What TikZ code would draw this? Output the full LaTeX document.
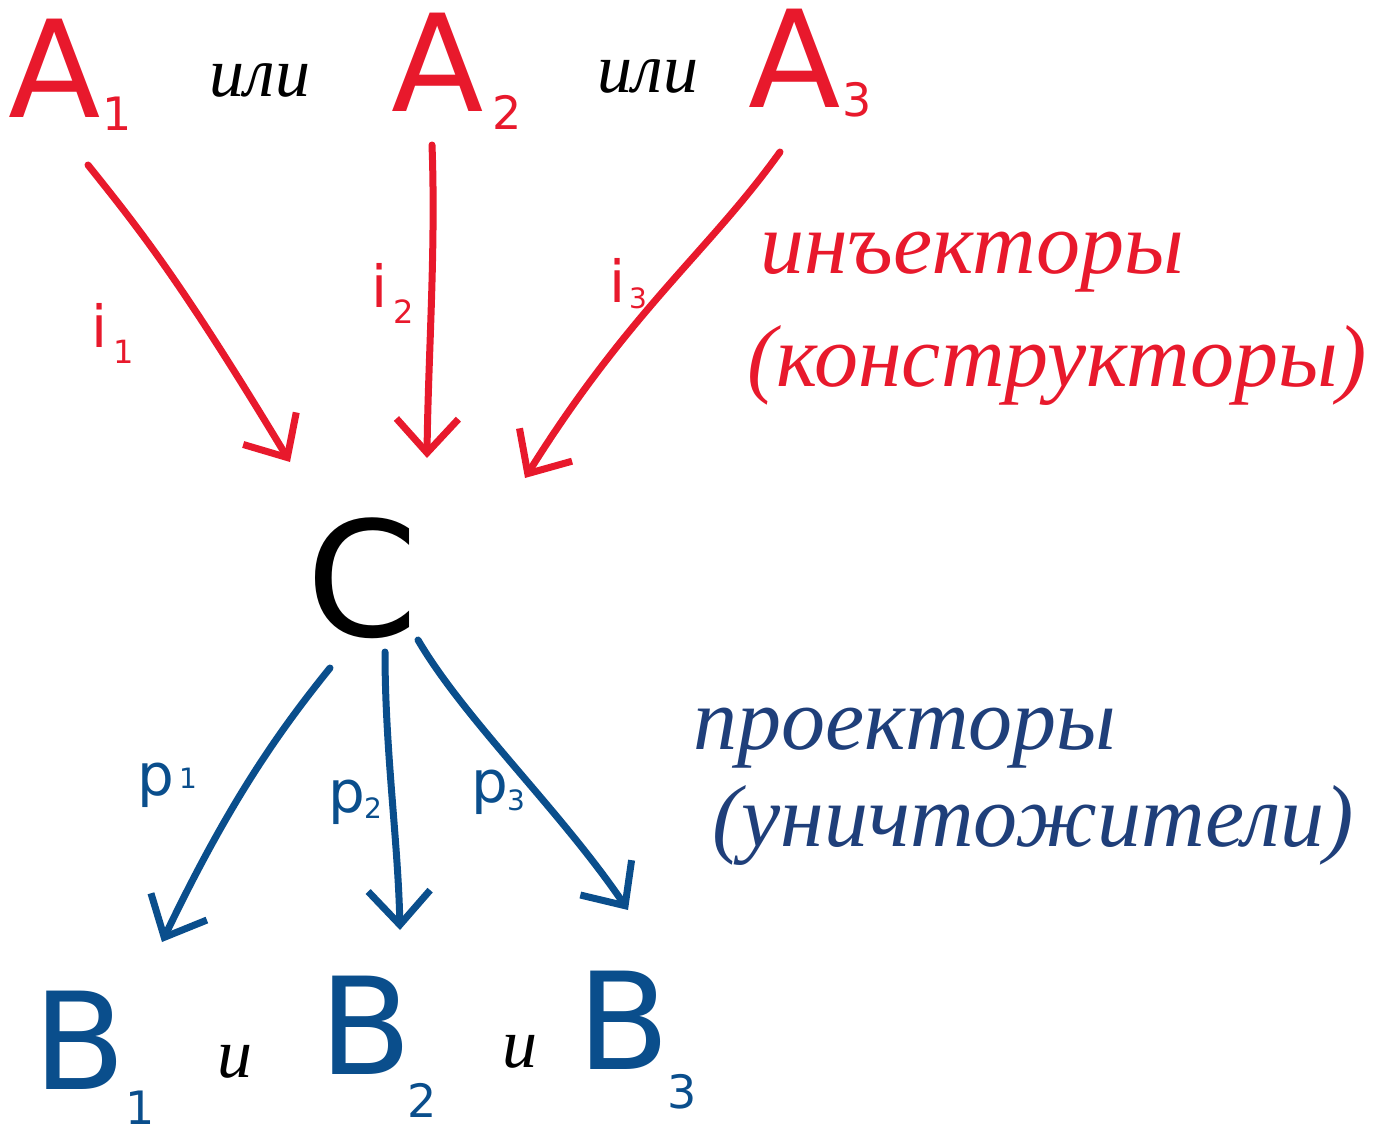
\documentclass[tikz,border=0pt]{standalone}
\usepackage{fontspec}
\setmainfont{DejaVu Sans}
\newfontfamily\handfont{Liberation Serif}
\usetikzlibrary{arrows.meta}
\definecolor{redc}{HTML}{E8192C}
\definecolor{bluea}{HTML}{0A4E8C}
\definecolor{bluet}{HTML}{1F3F7A}
\begin{document}
\begin{tikzpicture}[x=1pt,y=-1pt,
  big/.style={inner sep=0pt,font=\fontsize{135}{135}\selectfont},
  sub/.style={inner sep=0pt,font=\fontsize{46}{46}\selectfont},
  tiny/.style={inner sep=0pt,font=\fontsize{28}{28}\selectfont},
  ili/.style={inner sep=0pt,font=\handfont\itshape\fontsize{70}{70}\selectfont},
  lbl/.style={inner sep=0pt,font=\fontsize{58}{58}\selectfont},
  note/.style={inner sep=0pt,font=\handfont\itshape\fontsize{88}{88}\selectfont},
  arr/.style={line width=7pt,line cap=round,-{Straight Barb[length=34pt,width=62pt,line width=7pt]}}]
\useasboundingbox (0,0) rectangle (1377,1135);
% top row
\node[big,text=redc] (A1) at (55,68) {A};
\node[sub,text=redc] (s1) at (117,114) {1};
\node[ili] (or1) at (260,80) {или};
\node[big,text=redc] (A2) at (438,62) {A};
\node[sub,text=redc] (s2) at (507,112) {2};
\node[ili] (or2) at (648,76) {или};
\node[big,text=redc] (A3) at (795,58) {A};
\node[sub,text=redc] (s3) at (857,100) {3};
% C
\node[big,font=\fontsize{160}{160}\selectfont] (C) at (362,578) {C};
% bottom row
\node[big,text=bluea] (B1) at (80,1040) {B};
\node[sub,text=bluea] (t1) at (140,1108) {1};
\node[ili] (and1) at (235,1062) {и};
\node[big,text=bluea] (B2) at (366,1025) {B};
\node[sub,text=bluea] (t2) at (422,1100) {2};
\node[ili] (and2) at (520,1052) {и};
\node[big,text=bluea] (B3) at (624,1020) {B};
\node[sub,text=bluea] (t3) at (682,1092) {3};
% connector endpoints
\coordinate (a1s) at (88,165); \coordinate (a1e) at (290,462);
\coordinate (a2s) at (432,145); \coordinate (a2e) at (427,458);
\coordinate (a3s) at (780,152); \coordinate (a3e) at (525,478);
\coordinate (b1s) at (330,668); \coordinate (b1e) at (162,942);
\coordinate (b2s) at (385,652); \coordinate (b2e) at (400,930);
\coordinate (b3s) at (418,640); \coordinate (b3e) at (628,910);
\draw[arr,redc] (a1s) .. controls (140,230) and (180,280) .. (a1e);
\draw[arr,redc] (a2s) .. controls (436,250) and (428,360) .. (a2e);
\draw[arr,redc] (a3s) .. controls (710,250) and (630,310) .. (a3e);
\draw[arr,bluea] (b1s) .. controls (280,730) and (230,800) .. (b1e);
\draw[arr,bluea] (b2s) .. controls (385,750) and (398,840) .. (b2e);
\draw[arr,bluea] (b3s) .. controls (465,720) and (560,810) .. (b3e);
% labels
\node[lbl,text=redc] (i1) at (100,325) {i};
\node[tiny,text=redc,font=\fontsize{32}{32}\selectfont] (i1s) at (124,352) {1};
\node[lbl,text=redc] (i2) at (380,285) {i};
\node[tiny,text=redc,font=\fontsize{32}{32}\selectfont] (i2s) at (404,312) {2};
\node[lbl,text=redc] (i3) at (618,280) {i};
\node[tiny,text=redc] (i3s) at (638,298) {3};
\node[lbl,text=bluea] (p1) at (156,785) {p};
\node[tiny,text=bluea] (p1s) at (188,778) {1};
\node[lbl,text=bluea] (p2) at (347,802) {p};
\node[tiny,text=bluea] (p2s) at (373,808) {2};
\node[lbl,text=bluea] (p3) at (490,792) {p};
\node[tiny,text=bluea] (p3s) at (516,800) {3};
\node[note,text=redc] (inj) at (972,262) {инъекторы};
\node[note,text=redc] (cons) at (1057,365) {(конструкторы)};
\node[note,text=bluet] (proj) at (905,738) {проекторы};
\node[note,text=bluet] (dest) at (1033,825) {(уничтожители)};
\end{tikzpicture}
\end{document}
